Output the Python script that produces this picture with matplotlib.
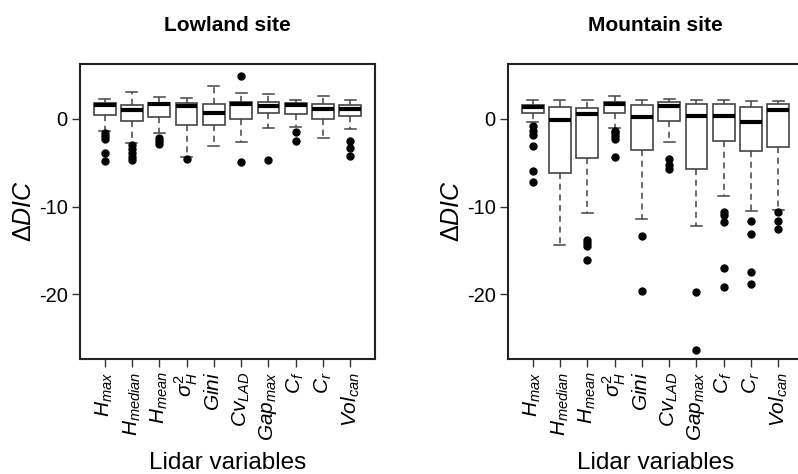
import matplotlib
matplotlib.use("Agg")
import matplotlib.pyplot as plt

plt.rcParams['font.family'] = ['Liberation Sans', 'DejaVu Sans']
plt.rcParams['mathtext.fontset'] = 'custom'
plt.rcParams['mathtext.rm'] = 'Liberation Sans'
plt.rcParams['mathtext.it'] = 'Liberation Sans:italic'
plt.rcParams['mathtext.bf'] = 'Liberation Sans:bold'

variables = [r'$H_{max}$', r'$H_{median}$', r'$H_{mean}$', r'$\sigma^2_H$', r'$Gini$',
             r'$Cv_{LAD}$', r'$Gap_{max}$', r'$C_f$', r'$C_r$', r'$Vol_{can}$']

# Lowland site: whisker low, q1, median, q3, whisker high, outliers
low_wlo = [-1.4, -2.8, -1.66, -4.3, -3.1, -2.65, -1.06, -0.9, -2.15, -1.21]
low_q1 = [0.45, -0.23, 0.26, -0.68, -0.68, 0.03, 0.68, 0.53, 0.0, 0.37]
low_med = [1.62, 1.0, 1.65, 1.5, 0.68, 1.65, 1.43, 1.58, 1.13, 1.13]
low_q3 = [1.81, 1.58, 1.77, 1.77, 1.7, 1.92, 1.88, 1.81, 1.7, 1.62]
low_whi = [2.26, 3.05, 2.49, 2.33, 3.7, 2.97, 2.83, 2.1, 2.56, 2.1]
low_out = [[-1.6, -2.0, -2.3, -3.85, -4.83],
           [-3.0, -3.4, -3.85, -4.3, -4.7],
           [-2.2, -2.5, -2.9],
           [-4.6],
           [],
           [4.93, -4.9],
           [-4.7],
           [-1.44, -2.53],
           [],
           [-2.5, -3.3, -4.2]]

# Mountain site
mtn_wlo = [-0.3, -14.4, -10.75, -1.02, -11.39, -2.65, -12.15, -8.83, -10.45, -10.34]
mtn_q1 = [0.68, -6.15, -4.45, 0.68, -3.59, -0.19, -5.66, -2.57, -3.7, -3.17]
mtn_med = [1.36, -0.12, 0.53, 1.65, 0.18, 1.43, 0.3, 0.3, -0.34, 0.97]
mtn_q3 = [1.62, 1.32, 1.2, 1.96, 1.58, 1.88, 1.65, 1.7, 1.36, 1.7]
mtn_whi = [2.1, 2.1, 2.1, 2.56, 2.18, 2.26, 2.18, 2.1, 2.0, 2.07]
mtn_out = [[-0.83, -1.36, -1.8, -3.05, -5.93, -7.17],
           [],
           [-13.77, -14.14, -14.52, -16.1],
           [-1.36, -1.66, -1.97, -2.34, -4.3],
           [-13.3, -19.65],
           [-4.6, -5.3, -5.7],
           [-19.7, -26.36],
           [-10.6, -11.0, -11.77, -16.95, -19.2],
           [-11.65, -13.1, -17.4, -18.86],
           [-10.56, -11.6, -12.6]]

titles = ['Lowland site', 'Mountain site']
ylabel = r'$\Delta DIC$'
xlabel = 'Lidar variables'
yticks = [0, -10, -20]


def make_stats(wlo, q1, med, q3, whi, out):
    return [dict(whislo=a, q1=b, med=c, q3=d, whishi=e, fliers=f)
            for a, b, c, d, e, f in zip(wlo, q1, med, q3, whi, out)]


fig = plt.figure(figsize=(7.98, 4.74), dpi=100)
W, H = 798, 474
axL = fig.add_axes([80 / W, (H - 359) / H, 295 / W, 295 / H])
axR = fig.add_axes([508 / W, (H - 359) / H, 295 / W, 295 / H])

edge = '#444444'
datasets = [make_stats(low_wlo, low_q1, low_med, low_q3, low_whi, low_out),
            make_stats(mtn_wlo, mtn_q1, mtn_med, mtn_q3, mtn_whi, mtn_out)]

for ax, stats, title in zip([axL, axR], datasets, titles):
    ax.bxp(stats, positions=range(1, 11), widths=0.8, capwidths=0.4,
           patch_artist=True,
           boxprops=dict(facecolor='white', edgecolor=edge, linewidth=1.2),
           medianprops=dict(color='black', linewidth=3.0, solid_capstyle='butt'),
           whiskerprops=dict(color=edge, linewidth=1.1, linestyle=(0, (4, 3))),
           capprops=dict(color=edge, linewidth=1.1),
           flierprops=dict(marker='o', markerfacecolor='black', markeredgecolor='black',
                           markersize=5))
    ax.set_xlim(0.1, 10.9)
    ax.set_ylim(-27.35, 6.25)
    ax.set_yticks(yticks)
    ax.set_yticklabels([str(t) for t in yticks], fontsize=14.5)
    ax.set_xticks(range(1, 11))
    ax.set_xticklabels(variables, rotation=90, fontsize=15)
    ax.tick_params(direction='out', length=6, width=1.0, color='#333333', pad=3)
    for sp in ax.spines.values():
        sp.set_linewidth(1.5)
        sp.set_color('#222222')
    ax.set_ylabel(ylabel, fontsize=18, labelpad=2)
    ax.set_xlabel(xlabel, fontsize=17.5, labelpad=8)
    ax.set_title(title, fontsize=15, fontweight='bold', pad=24)

fig.savefig('out.png', dpi=100)
